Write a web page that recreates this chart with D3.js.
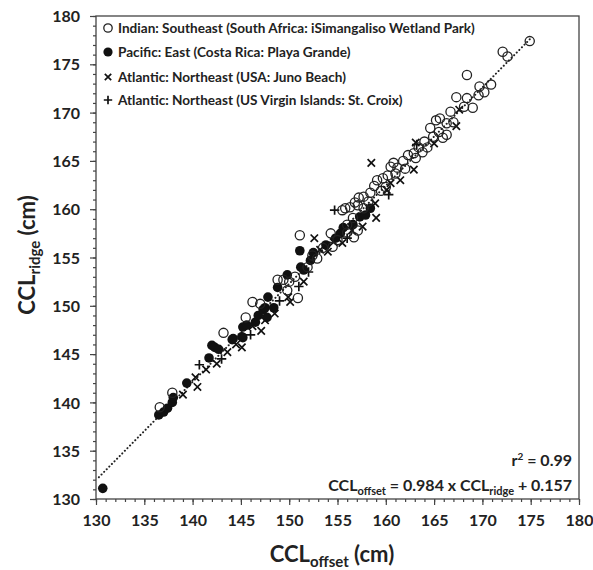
<!DOCTYPE html>
<html><head><meta charset="utf-8">
<script src="https://cdn.jsdelivr.net/npm/d3@7"></script>
<style>
html,body{margin:0;padding:0;background:#fff;}
svg text{font-family:Lato,"Open Sans",sans-serif;font-weight:bold;fill:#222;}
</style></head>
<body><svg id="c" width="593" height="570"></svg>
<script>
// ---- data (x = CCL offset, y = CCL ridge) ----
const indianSE = [[174.9,177.4],[172.1,176.3],[172.6,175.8],[168.4,173.9],[170.9,172.9],[169.7,172.7],[169.6,171.8],[167.3,171.6],[168.4,171.5],[168.1,170.6],[166.7,170.1],[165.2,169.2],[166.3,168.9],[164.6,168.4],[165.5,168.0],[166.3,167.7],[164.9,167.5],[165.9,167.4],[164.3,166.4],[163.4,166.4],[163.8,165.9],[162.9,165.8],[162.3,165.6],[163.1,165.3],[160.8,164.8],[161.2,164.3],[160.2,163.5],[161.0,163.7],[160.5,164.4],[159.1,163.0],[159.7,163.2],[158.4,161.7],[157.7,161.3],[157.2,161.2],[156.8,160.7],[156.3,160.2],[155.8,160.1],[158.2,160.8],[157.1,160.4],[157.7,160.1],[156.6,159.1],[156.0,158.4],[157.1,157.8],[156.7,157.1],[156.0,157.6],[155.0,156.8],[154.3,157.5],[154.5,156.1],[152.9,154.9],[151.9,154.0],[150.6,153.0],[149.4,152.7],[148.8,152.7],[146.2,150.4],[145.5,148.8],[143.2,147.2],[137.9,141.0],[136.6,139.5],[151.1,157.3],[150.9,150.8],[155.5,159.9],[159.5,161.9],[160.0,162.3],[162.0,164.2],[164.0,167.0],[167.0,169.0],[169.0,170.5],[153.5,156.0],[150.0,152.5],[147.0,150.2],[158.8,162.4],[161.8,165.0],[165.6,169.4],[170.2,172.1],[149.8,151.6],[152.4,155.2]];
const pacificE = [[130.7,131.1],[136.5,138.7],[137.0,139.0],[137.4,139.4],[137.9,140.0],[138.0,140.5],[139.4,142.0],[141.7,144.6],[142.0,145.9],[142.3,145.7],[142.7,145.5],[144.2,146.6],[145.2,146.7],[145.2,147.8],[145.6,148.0],[146.5,148.3],[146.8,149.0],[147.3,149.6],[147.7,148.8],[147.5,149.8],[148.4,149.8],[147.8,150.9],[148.8,151.9],[149.8,153.2],[151.2,154.0],[151.5,153.7],[152.2,154.7],[152.5,155.5],[153.8,156.3],[154.8,157.0],[155.3,157.5],[155.6,158.1],[156.6,158.4],[157.3,159.2],[157.9,159.4],[158.4,160.1],[151.1,155.7],[144.1,146.5],[145.1,146.8]];
const atlanticJuno = [[140.5,141.6],[140.3,142.6],[141.4,143.4],[143.6,145.2],[145.1,145.7],[146.2,147.9],[147.1,147.4],[147.5,148.5],[150.1,150.4],[149.9,150.9],[153.2,155.8],[154.0,155.6],[154.6,156.6],[152.6,157.0],[157.6,158.2],[159.0,159.1],[158.9,160.6],[158.5,164.8],[160.1,162.0],[160.5,162.7],[162.9,164.1],[163.1,166.9],[167.3,168.6],[167.6,170.3],[139.0,140.8],[142.5,144.0],[144.5,146.0],[148.5,149.2],[151.5,152.5],[155.5,156.5],[156.5,157.8],[161.5,163.0],[165.0,166.8]];
const atlanticStCroix = [[140.7,143.9],[154.7,159.9],[146.0,147.0],[149.0,150.5],[152.0,153.5],[156.0,157.0],[160.3,161.5],[163.2,166.7],[143.0,144.5],[151.0,152.0]];
const legendLabels = ["Indian: Southeast (South Africa: iSimangaliso Wetland Park)","Pacific: East (Costa Rica: Playa Grande)","Atlantic: Northeast (USA: Juno Beach)","Atlantic: Northeast (US Virgin Islands: St. Croix)"];
const majorTicks = [130,135,140,145,150,155,160,165,170,175,180];
const minorTicks = d3.range(130,181,1);
const slope = 0.984, intercept = 0.157, r2 = "0.99";
const fitRange = [130.3, 175.0];

// ---- layout ----
const L=96, R=579, T=16, B=499;
const svg = d3.select("#c");
const x = d3.scaleLinear().domain([130,180]).range([L,R]);
const y = d3.scaleLinear().domain([130,180]).range([B,T]);
const axisCol = "#444";

// minor ticks
const gxm = svg.append("g").attr("transform",`translate(0,${B})`)
  .call(d3.axisBottom(x).tickValues(minorTicks).tickSize(3).tickFormat(""));
const gym = svg.append("g").attr("transform",`translate(${L},0)`)
  .call(d3.axisLeft(y).tickValues(minorTicks).tickSize(3).tickFormat(""));
// major ticks
const gx = svg.append("g").attr("transform",`translate(0,${B})`)
  .call(d3.axisBottom(x).tickValues(majorTicks).tickSize(6).tickPadding(10).tickFormat(d3.format("d")));
const gy = svg.append("g").attr("transform",`translate(${L},0)`)
  .call(d3.axisLeft(y).tickValues(majorTicks).tickSize(6).tickPadding(10).tickFormat(d3.format("d")));
[gxm,gym,gx,gy].forEach(g=>{
  g.select(".domain").remove();
  g.selectAll(".tick line").attr("stroke",axisCol).attr("stroke-width",1.2);
  g.selectAll("text").attr("font-size",16).attr("fill","#1a1a1a").attr("font-family",'Lato,"Open Sans",sans-serif').attr("font-weight","900");
});
gy.selectAll("text").attr("dy","0.35em");

// frame
svg.append("rect").attr("x",L).attr("y",T).attr("width",R-L).attr("height",B-T)
  .attr("fill","none").attr("stroke",axisCol).attr("stroke-width",1.3);

// fit line
const line = d3.line().x(d=>x(d)).y(d=>y((d-intercept)/slope));
svg.append("path").datum(fitRange).attr("d",line)
  .attr("fill","none").attr("stroke","#222").attr("stroke-width",2)
  .attr("stroke-dasharray","0.1,3.6").attr("stroke-linecap","round");

// markers
const ink = "#111";
const pts = svg.append("g");
function cross(g, size){ // ×
  g.append("path").attr("d",`M${-size},${-size}L${size},${size}M${-size},${size}L${size},${-size}`)
   .attr("stroke",ink).attr("stroke-width",1.7).attr("fill","none");
}
function plus(g, size){
  g.append("path").attr("d",`M${-size},0L${size},0M0,${-size}L0,${size}`)
   .attr("stroke",ink).attr("stroke-width",1.7).attr("fill","none");
}
pts.selectAll(".jn").data(atlanticJuno).join("g").attr("transform",d=>`translate(${x(d[0])},${y(d[1])})`).each(function(){cross(d3.select(this),3.7);});
pts.selectAll(".sc").data(atlanticStCroix).join("g").attr("transform",d=>`translate(${x(d[0])},${y(d[1])})`).each(function(){plus(d3.select(this),4.7);});
pts.selectAll(".pe").data(pacificE).join("circle").attr("cx",d=>x(d[0])).attr("cy",d=>y(d[1])).attr("r",4.8).attr("fill",ink);
pts.selectAll(".ise").data(indianSE).join("circle").attr("cx",d=>x(d[0])).attr("cy",d=>y(d[1])).attr("r",4.6)
  .attr("fill","none").attr("stroke","#222").attr("stroke-width",1.3);

// legend
const lg = svg.append("g");
const rowsY = [28,52,77,100];
const mx = 108;
lg.append("circle").attr("cx",mx).attr("cy",rowsY[0]).attr("r",4.2).attr("fill","none").attr("stroke","#222").attr("stroke-width",1.3);
lg.append("circle").attr("cx",mx).attr("cy",rowsY[1]).attr("r",4.6).attr("fill",ink);
cross(lg.append("g").attr("transform",`translate(${mx},${rowsY[2]})`),3.2);
plus(lg.append("g").attr("transform",`translate(${mx},${rowsY[3]})`),4.2);
const lt = lg.selectAll("text.l").data(legendLabels).join("text").attr("class","l")
  .attr("x",118).attr("y",(d,i)=>rowsY[i]).attr("dy","0.35em").attr("font-size",14).text(d=>d);
const w0 = lt.node().getComputedTextLength();
lt.attr("font-size",14*357/w0);

// annotations
const ann = svg.append("g");
const t1 = ann.append("text").attr("x",572).attr("y",466).attr("text-anchor","end").attr("font-size",16);
t1.append("tspan").text("r");
t1.append("tspan").attr("dy",-6).attr("font-size",10).text("2");
t1.append("tspan").attr("dy",6).text(" = " + r2);
const t2 = ann.append("text").attr("x",572).attr("y",491).attr("text-anchor","end").attr("font-size",16);
t2.append("tspan").text("CCL");
t2.append("tspan").attr("dy",4).attr("font-size",11).text("offset");
t2.append("tspan").attr("dy",-4).text(` = ${slope} x CCL`);
t2.append("tspan").attr("dy",4).attr("font-size",11).text("ridge");
t2.append("tspan").attr("dy",-4).text(` + ${intercept}`);

// axis titles
const xt = svg.append("text").attr("x",332).attr("y",562).attr("text-anchor","middle").attr("font-size",22);
xt.append("tspan").text("CCL");
xt.append("tspan").attr("dy",5).attr("font-size",15).text("offset");
xt.append("tspan").attr("dy",-5).text(" (cm)");
const yt = svg.append("text").attr("transform","translate(35,255) rotate(-90)").attr("text-anchor","middle").attr("font-size",22);
yt.append("tspan").text("CCL");
yt.append("tspan").attr("dy",5).attr("font-size",15).text("ridge");
yt.append("tspan").attr("dy",-5).text(" (cm)");
</script></body></html>
